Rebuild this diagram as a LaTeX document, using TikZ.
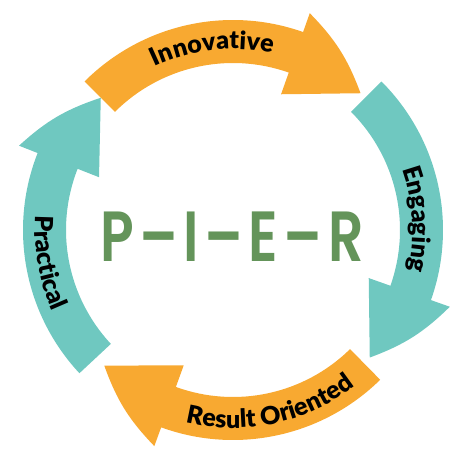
\documentclass[tikz,border=0pt]{standalone}
\usepackage{fontspec}
\setmainfont{Lato}
\newfontfamily\pierfont[LetterSpace=10]{Poppins SemiBold}
\newfontfamily\lblface{Lato Black}
\usetikzlibrary{decorations.text}

\definecolor{pierorange}{HTML}{F8A931}
\definecolor{pierteal}{HTML}{6FC8C0}
\definecolor{piergreen}{HTML}{64945A}

\newcommand{\lblfont}{\lblface\fontsize{25}{25}\selectfont}
% one clockwise arrow of the cycle: colour, tail angle
\newcommand{\cyclearrow}[2]{%
  \fill[#1] (#2:210pt) arc[start angle=#2, end angle=#2-64.5, radius=210pt]
    -- (#2-64.5:230pt) to[bend left=12] (#2-88:187pt) -- (#2-64.5:144pt)
    -- (#2-64.5:167pt) arc[start angle=#2-64.5, end angle=#2, radius=167pt] -- cycle;}

\begin{document}
\begin{tikzpicture}[
  curvetext/.style={decorate, decoration={text along path, text align=center,
    text={|\lblfont|#1}}},
  pier/.style={text=piergreen, font=\pierfont\fontsize{71}{71}\selectfont,
    inner sep=0pt, xscale=0.78},
]
\useasboundingbox (-233pt,-230pt) rectangle (241pt,230pt);
\cyclearrow{pierorange}{135}
\cyclearrow{pierteal}{45}
\cyclearrow{pierorange}{-45.5}
\cyclearrow{pierteal}{-137}
\path[curvetext=Innovative] (136.5:181pt) arc[start angle=136.5, end angle=56.5, radius=181pt];
\path[curvetext=Engaging] (43.4:180pt) arc[start angle=43.4, end angle=-36.6, radius=180pt];
\path[curvetext=Result Oriented] (-118:198pt) arc[start angle=-118, end angle=-38, radius=198pt];
\path[curvetext=Practical] (150:198pt) arc[start angle=150, end angle=230, radius=198pt];
\node[pier] (pier) at (-1pt,-7pt) {P–I–E–R};
\end{tikzpicture}
\end{document}
